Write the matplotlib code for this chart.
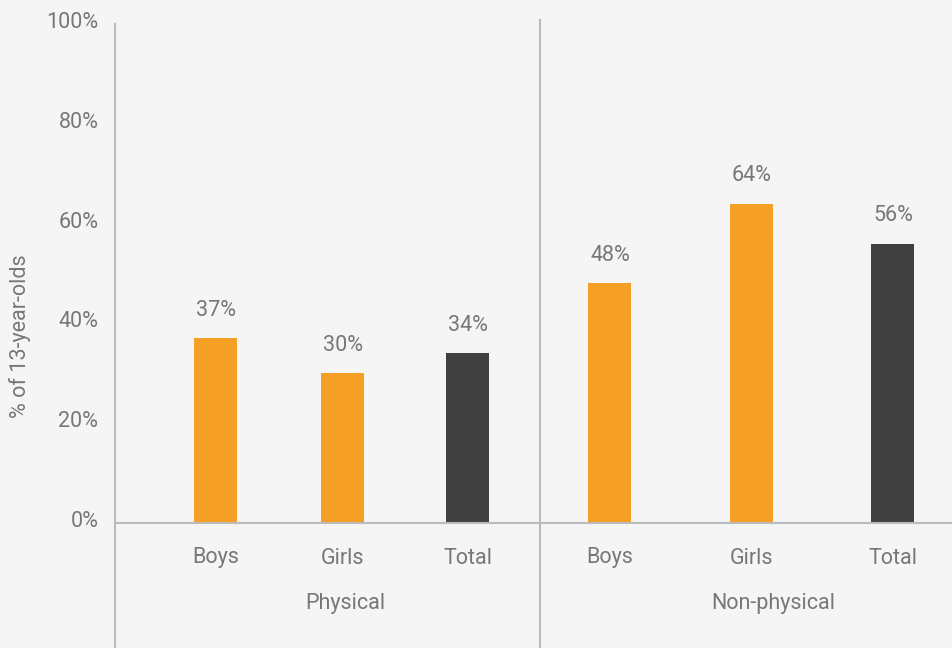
import matplotlib.pyplot as plt
from matplotlib.lines import Line2D
from matplotlib.transforms import ScaledTranslation

plt.rcParams['font.family'] = ['Roboto', 'DejaVu Sans']

# Share of 13-year-olds, by type and sex
groups = ['Physical', 'Non-physical']
categories = ['Boys', 'Girls', 'Total']
physical = [37, 30, 34]
non_physical = [48, 64, 56]
yticks = [0, 20, 40, 60, 80, 100]

ORANGE = '#F5A025'
DARK = '#404040'
GREY_TEXT = '#777777'
GREY_LINE = '#BBBBBB'
BG = '#F5F5F5'
FS = 15.5

W, H = 953, 648
fig = plt.figure(figsize=(W / 100, H / 100), dpi=100, facecolor=BG)

# axes in pixel terms: left 115, right 953, top 24, baseline 523
ax_left, ax_right, ax_top, ax_bottom = 115, 953, 24, 523
ax = fig.add_axes([ax_left / W, 1 - ax_bottom / H,
                   (ax_right - ax_left) / W, (ax_bottom - ax_top) / H])
ax.set_facecolor(BG)

# bar centres in pixels from the left axis, group divider and group label centres
centres = [101, 228, 353, 495, 637, 778]
divider = 425
group_centres = [230, 658]
bar_w = 43

values = physical + non_physical
colors = [ORANGE, ORANGE, DARK] * 2
bars = ax.bar(centres, values, width=bar_w, color=colors, zorder=2)

ax.set_xlim(0, ax_right - ax_left)
ax.set_ylim(0, 100)
ax.set_yticks(yticks)
ax.set_yticklabels([f'{t}%' for t in yticks])
ax.tick_params(axis='y', length=0, pad=12, labelsize=FS, labelcolor=GREY_TEXT)
ax.set_xticks([])

# lift the tick labels a few pixels
shift = ScaledTranslation(0, 4 / 100, fig.dpi_scale_trans)
for lab in ax.get_yticklabels():
    lab.set_transform(lab.get_transform() + shift)

for s in ['top', 'right', 'left']:
    ax.spines[s].set_visible(False)
ax.spines['bottom'].set_color(GREY_LINE)
ax.spines['bottom'].set_linewidth(1.5)

for rect, v in zip(bars, values):
    ax.annotate(f'{v}%', xy=(rect.get_x() + rect.get_width() / 2, v),
                xytext=(0, 16), textcoords='offset points',
                ha='center', va='baseline', fontsize=FS, color=GREY_TEXT)

# category and group labels below the baseline
cats = categories * 2
for x, c in zip(centres, cats):
    fig.text((ax_left + x) / W, 1 - 558 / H, c, ha='center', va='center',
             fontsize=FS, color=GREY_TEXT)
for x, g in zip(group_centres, groups):
    fig.text((ax_left + x) / W, 1 - 603 / H, g, ha='center', va='center',
             fontsize=FS, color=GREY_TEXT)

# left axis line and group divider run to the bottom edge
fig.add_artist(Line2D([ax_left / W] * 2, [0, 1 - ax_top / H],
                      transform=fig.transFigure, color=GREY_LINE, lw=1.5))
fig.add_artist(Line2D([(ax_left + divider) / W] * 2, [0, 1 - 20 / H],
                      transform=fig.transFigure, color=GREY_LINE, lw=1.5))

fig.text(20 / W, 1 - 336 / H, '% of 13-year-olds', rotation=90,
         ha='center', va='center', fontsize=FS, color=GREY_TEXT)

fig.savefig('out.png', dpi=100, facecolor=BG)
